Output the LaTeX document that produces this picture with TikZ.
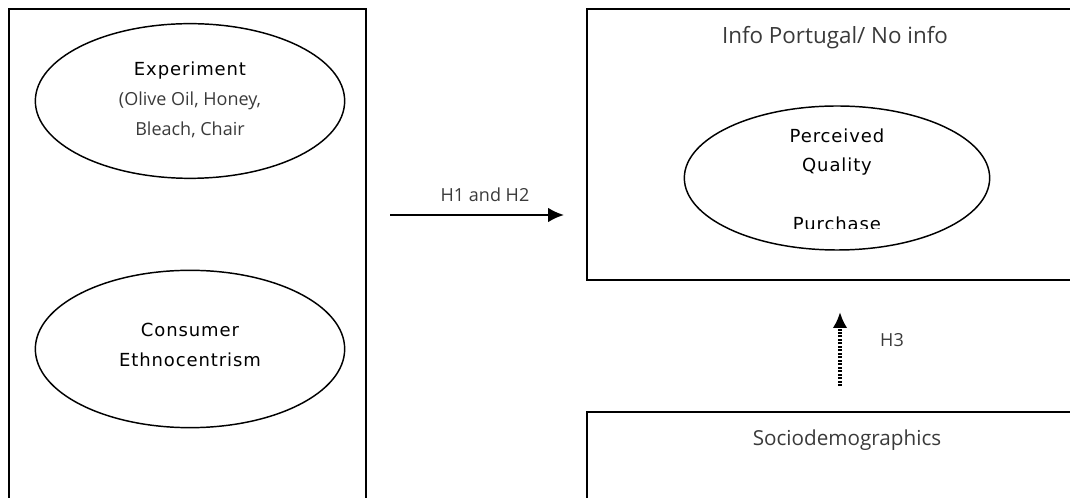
\documentclass[tikz,border=0pt]{standalone}
\usepackage{fontspec}
\setmainfont{Open Sans}
\newfontfamily\titlefont[LetterSpace=5]{DejaVu Sans}
\usetikzlibrary{arrows.meta,positioning,shapes.geometric}
\definecolor{ink}{HTML}{3A3A3A}

\begin{document}
\begin{tikzpicture}[x=0.75pt,y=-0.75pt,>=Latex,
 frame/.style={draw,line width=1.3pt},
 oval/.style={ellipse,draw,line width=1.1pt,minimum width=232pt,minimum height=116pt,inner sep=0pt},
 title/.style={align=center,font=\titlefont\fontsize{13.5}{22.5}\selectfont},
 txt/.style={align=center,text=ink,font=\fontsize{13.5}{22.5}\selectfont},
 a/.style={->,line width=1.5pt,arrows={-Latex[length=12pt,width=11pt]}},
 dot/.style={a,dash pattern=on 1.5pt off 1.1pt,line width=2.4pt}]
\useasboundingbox (0,0) rectangle (1070,498);
\clip (0,0) rectangle (1070,498);
% boxes
\draw[frame] (9,9) rectangle (366,510);
\draw[frame] (587,9) rectangle (1080,280);
\draw[frame] (587,412) rectangle (1080,510);
% left column
\node[oval] (exp) at (190,101) {};
\node[title,anchor=base] (expt) at (190,76) {Experiment};
\node[txt,anchor=base] (prod) at (190,136) {(Olive Oil, Honey,\\Bleach, Chair};
\node[oval,minimum height=118pt] (ce) at (190,349) {};
\node[title] (cet) at (190,345) {Consumer\\Ethnocentrism};
% right column
\node[txt,font=\fontsize{16.8}{20}\selectfont] (info) at (835,38) {Info Portugal/ No info};
\node[oval,minimum width=229pt,minimum height=108pt] (pq) at (837,178) {};
\node[title,font=\titlefont\fontsize{13.5}{21.75}\selectfont] (pqt) at (837,152.5) {Perceived\\Quality};
\begin{scope}
\clip (680,200) rectangle (1000,229);
\node[title,anchor=base] (buy) at (837,231) {Purchase};
\end{scope}
\node[txt,font=\fontsize{15.5}{20}\selectfont] (socio) at (847,440) {Sociodemographics};
% hypotheses
\coordinate (h1s) at (390,215);
\coordinate (h1e) at (564,215);
\draw[a] (h1s) -- node[txt,above=6pt,xshift=6pt] (h12) {H1 and H2} (h1e);
\coordinate (h3s) at (840,386);
\coordinate (h3e) at (840,312);
\draw[dot] (h3s) -- (h3e);
\node[txt] (h3) at (892,340) {H3};
\end{tikzpicture}
\end{document}
